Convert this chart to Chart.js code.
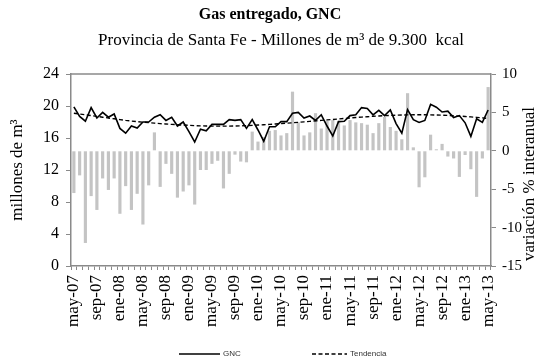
<!DOCTYPE html>
<html>
<head>
<meta charset="utf-8">
<script src="https://cdn.jsdelivr.net/npm/chart.js@4/dist/chart.umd.min.js"></script>
<style>
  html, body { margin: 0; padding: 0; background: #fff; }
  canvas { display: block; }
</style>
</head>
<body>
<canvas id="chart" width="540" height="362"></canvas>
<script>
// Meses (may-07 a may-13)
const months = [
  'may-07','jun-07','jul-07','ago-07','sep-07','oct-07','nov-07','dic-07',
  'ene-08','feb-08','mar-08','abr-08','may-08','jun-08','jul-08','ago-08','sep-08','oct-08','nov-08','dic-08',
  'ene-09','feb-09','mar-09','abr-09','may-09','jun-09','jul-09','ago-09','sep-09','oct-09','nov-09','dic-09',
  'ene-10','feb-10','mar-10','abr-10','may-10','jun-10','jul-10','ago-10','sep-10','oct-10','nov-10','dic-10',
  'ene-11','feb-11','mar-11','abr-11','may-11','jun-11','jul-11','ago-11','sep-11','oct-11','nov-11','dic-11',
  'ene-12','feb-12','mar-12','abr-12','may-12','jun-12','jul-12','ago-12','sep-12','oct-12','nov-12','dic-12',
  'ene-13','feb-13','mar-13','abr-13','may-13'
];

// Etiquetas visibles en el eje X
const tickLabels = [
  'may-07','sep-07','ene-08','may-08','sep-08','ene-09','may-09','sep-09','ene-10','may-10',
  'sep-10','ene-11','may-11','sep-11','ene-12','may-12','sep-12','ene-13','may-13'
];

// GNC entregado, millones de m3 de 9.300 kcal
const gnc = [
  19.9, 18.7, 18.1, 19.8, 18.5, 19.2, 18.6, 19.0,
  17.2, 16.6, 17.5, 17.25, 18.0, 18.0, 18.6, 18.9, 18.2, 18.6, 17.5, 18.0,
  16.8, 15.5, 17.1, 16.9, 17.7, 17.7, 17.7, 18.3, 18.2, 18.3, 17.2, 18.3,
  17.0, 15.6, 17.4, 17.4, 18.05, 18.05, 19.1, 19.2, 18.5, 18.75, 18.2, 18.9,
  17.5, 16.25, 18.05, 18.1, 18.8, 18.9, 19.8, 19.7, 18.9, 19.45, 18.8, 19.5,
  17.8, 16.6, 19.55, 18.3, 17.95, 18.2, 20.2, 19.85, 19.25, 19.35, 18.55, 18.8,
  17.9, 16.2, 18.4, 17.95, 19.5
];

// Tendencia
const tendencia = [
  19.10, 19.00, 18.90, 18.80, 18.70, 18.60, 18.50, 18.40,
  18.30, 18.20, 18.12, 18.05, 17.98, 17.92, 17.86, 17.80, 17.75, 17.70, 17.66, 17.62,
  17.58, 17.55, 17.52, 17.50, 17.49, 17.48, 17.48, 17.49, 17.50, 17.52, 17.55, 17.58,
  17.62, 17.66, 17.70, 17.75, 17.80, 17.85, 17.90, 17.96, 18.02, 18.08, 18.14, 18.20,
  18.26, 18.32, 18.38, 18.44, 18.50, 18.56, 18.61, 18.66, 18.71, 18.75, 18.79, 18.82,
  18.85, 18.87, 18.89, 18.90, 18.90, 18.90, 18.89, 18.87, 18.85, 18.82, 18.78, 18.74,
  18.69, 18.64, 18.58, 18.52, 18.45
];

// Variación % interanual
const variacion = [
  -5.5, -3.2, -12.0, -5.9, -7.7, -3.6, -5.1, -3.6,
  -8.2, -4.6, -7.7, -5.6, -9.6, -4.5, 2.4, -4.7, -1.7, -3.0, -6.1, -5.3,
  -4.5, -7.0, -2.5, -2.5, -1.7, -1.3, -4.9, -3.0, -0.5, -1.4, -1.5, 2.5,
  1.2, 1.8, 2.6, 2.7, 2.0, 2.3, 7.7, 3.7, 2.0, 2.4, 4.9, 2.9,
  3.9, 4.0, 3.9, 3.3, 4.0, 3.7, 3.6, 3.4, 2.3, 3.6, 4.4, 3.1,
  2.6, 1.5, 7.5, 0.45, -4.75, -3.45, 2.1, 0.2, 0.9, -0.75, -1.0, -3.4,
  -0.55, -2.4, -6.0, -1.0, 8.3
];

const SERIF = "'Liberation Serif', 'Times New Roman', serif";
const SANS = "'Liberation Sans', Arial, sans-serif";
const AXIS_GREY = '#8a8a8a';

// Borde superior del área de trazado, título del eje derecho y leyenda de las líneas
const framePlugin = {
  id: 'frame',
  afterDraw(chart) {
    const { ctx, chartArea: a } = chart;
    ctx.save();
    ctx.strokeStyle = AXIS_GREY;
    ctx.lineWidth = 1.5;
    ctx.beginPath();
    ctx.moveTo(a.left, a.top);
    ctx.lineTo(a.right, a.top);
    ctx.stroke();

    // título eje secundario
    ctx.fillStyle = '#000';
    ctx.font = '17px ' + SERIF;
    ctx.textAlign = 'center';
    ctx.textBaseline = 'middle';
    ctx.translate(530, 184);
    ctx.rotate(-Math.PI / 2);
    ctx.fillText('variación % interanual', 0, 0);
    ctx.restore();

    // leyenda
    const y = 354;
    const items = [
      { x0: 179, x1: 220, tx: 223, ds: chart.data.datasets[0] },
      { x0: 312, x1: 347, tx: 350, ds: chart.data.datasets[1] }
    ];
    ctx.save();
    ctx.font = '8px ' + SANS;
    ctx.textAlign = 'left';
    ctx.textBaseline = 'middle';
    items.forEach(it => {
      ctx.strokeStyle = it.ds.borderColor;
      ctx.lineWidth = it.ds.borderWidth;
      ctx.setLineDash(it.ds.borderDash || []);
      ctx.beginPath();
      ctx.moveTo(it.x0, y);
      ctx.lineTo(it.x1, y);
      ctx.stroke();
      ctx.setLineDash([]);
      ctx.fillStyle = '#333';
      ctx.fillText(it.ds.label, it.tx, y);
    });
    ctx.restore();
  }
};

new Chart(document.getElementById('chart'), {
  type: 'bar',
  data: {
    labels: months,
    datasets: [
      {
        type: 'line',
        label: 'GNC',
        data: gnc,
        yAxisID: 'y',
        borderColor: '#000',
        borderWidth: 1.6,
        pointRadius: 0,
        tension: 0,
        order: 1
      },
      {
        type: 'line',
        label: 'Tendencia',
        data: tendencia,
        yAxisID: 'y',
        borderColor: '#000',
        borderWidth: 1.4,
        borderDash: [4, 2.5],
        pointRadius: 0,
        tension: 0,
        order: 2
      },
      {
        type: 'bar',
        label: 'Variación % interanual',
        data: variacion,
        yAxisID: 'y1',
        backgroundColor: '#c4c4c4',
        barPercentage: 0.55,
        categoryPercentage: 1,
        order: 3
      }
    ]
  },
  options: {
    responsive: false,
    animation: false,
    devicePixelRatio: 1,
    layout: { padding: 0 },
    plugins: {
      legend: { display: false },
      tooltip: { enabled: false },
      title: {
        display: true,
        text: 'Gas entregado, GNC',
        color: '#000',
        font: { family: SERIF, size: 16, weight: 'bold', lineHeight: 1.2 },
        padding: { top: 5.4, bottom: 0 }
      },
      subtitle: {
        display: true,
        fullSize: false,
        text: 'Provincia de Santa Fe - Millones de m³ de 9.300  kcal',
        color: '#000',
        font: { family: SERIF, size: 17, lineHeight: 1.2 },
        padding: { top: 6.2, bottom: 22.8 }
      }
    },
    scales: {
      x: {
        grid: { display: true, drawOnChartArea: false, drawTicks: true, tickLength: 4, color: AXIS_GREY },
        border: { display: true, color: AXIS_GREY, width: 1.5 },
        ticks: {
          autoSkip: false,
          maxRotation: 90,
          minRotation: 90,
          padding: 5,
          color: '#000',
          font: { family: SERIF, size: 17 },
          callback: (v, i) => tickLabels.includes(months[i]) ? months[i] : ''
        },
        afterFit: s => { s.height = 96; }
      },
      y: {
        position: 'left',
        min: 0,
        max: 24,
        ticks: { stepSize: 2, padding: 7, color: '#000', font: { family: SERIF, size: 16 } },
        grid: { display: true, drawOnChartArea: false, tickLength: 5, color: AXIS_GREY },
        border: { display: true, color: AXIS_GREY, width: 1.5 },
        title: {
          display: true,
          text: 'millones de m³',
          color: '#000',
          font: { family: SERIF, size: 17, lineHeight: 1.2 },
          padding: { top: 7.8, bottom: 0 }
        },
        afterFit: s => { s.width = 71; }
      },
      y1: {
        position: 'right',
        min: -15,
        max: 10,
        ticks: { stepSize: 5, padding: 6, color: '#000', font: { family: SERIF, size: 15 } },
        grid: { display: true, drawOnChartArea: false, tickLength: 5, color: AXIS_GREY },
        border: { display: true, color: AXIS_GREY, width: 1.5 },
        afterFit: s => { s.width = 49; }
      }
    }
  },
  plugins: [framePlugin]
});
</script>
</body>
</html>
